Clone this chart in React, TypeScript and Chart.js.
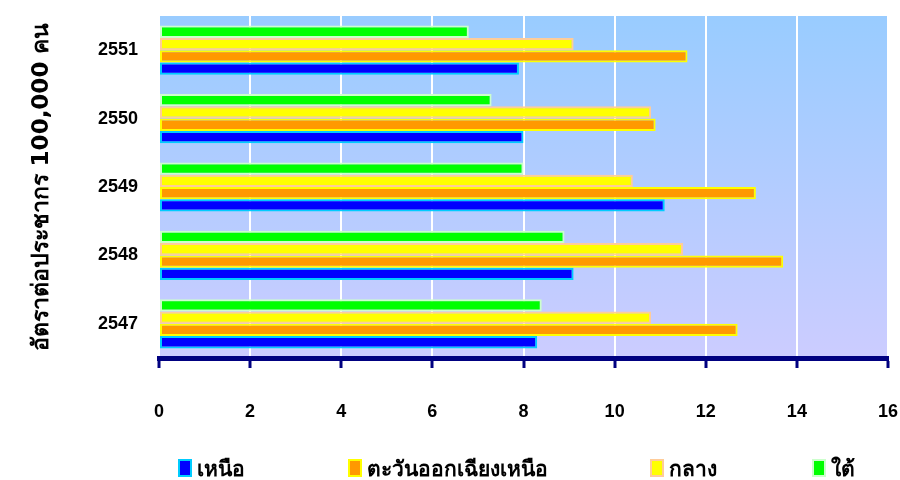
import React, { useEffect, useRef } from "react";
import { Chart, registerables } from "chart.js";

Chart.register(...registerables);

const years = ["2551", "2550", "2549", "2548", "2547"];
const seriesNames = ["เหนือ", "ตะวันออกเฉียงเหนือ", "กลาง", "ใต้"];
const north = [7.9, 8.0, 11.1, 9.1, 8.3];
const northeast = [11.6, 10.9, 13.1, 13.7, 12.7];
const central = [9.1, 10.8, 10.4, 11.5, 10.8];
const south = [6.8, 7.3, 8.0, 8.9, 8.4];
const xTicks = [0, 2, 4, 6, 8, 10, 12, 14, 16];
const yTitle = "อัตราต่อประชากร 100,000 คน";

const fills = ["#0000FF", "#FF9900", "#FFFF00", "#00FF00"];
const borders = ["#00CCFF", "#FFFF00", "#FFCC99", "#CCFFCC"];
const legendLefts = [178, 348, 650, 812];

const bgPlugin = {
  id: "plotBg",
  beforeDraw(chart: any) {
    const { ctx, chartArea } = chart;
    if (!chartArea) return;
    const g = ctx.createLinearGradient(0, chartArea.top, 0, chartArea.bottom);
    g.addColorStop(0, "#99CCFF");
    g.addColorStop(1, "#CCCCFF");
    ctx.save();
    ctx.fillStyle = g;
    ctx.fillRect(chartArea.left, chartArea.top, chartArea.right - chartArea.left, chartArea.bottom - chartArea.top);
    ctx.restore();
  },
};

export default function App() {
  const ref = useRef<HTMLCanvasElement>(null);
  useEffect(() => {
    const values = [north, northeast, central, south];
    const order = [3, 2, 1, 0];
    const chart = new Chart(ref.current!, {
      type: "bar",
      data: {
        labels: years,
        datasets: order.map((i) => ({
          label: seriesNames[i],
          data: values[i],
          backgroundColor: fills[i],
          borderColor: borders[i],
          borderWidth: 2,
          borderSkipped: false,
          categoryPercentage: 0.72,
          barPercentage: 1.0,
        })),
      },
      options: {
        indexAxis: "y",
        animation: false,
        responsive: false,
        maintainAspectRatio: false,
        layout: { padding: { top: 16, right: 12, left: 0, bottom: 0 } },
        plugins: {
          legend: { display: false },
          tooltip: { enabled: false },
        },
        scales: {
          x: {
            min: 0,
            max: 16,
            afterBuildTicks: (scale: any) => {
              scale.ticks = xTicks.map((v) => ({ value: v }));
            },
            afterFit: (scale: any) => {
              scale.height = 122;
              scale.paddingLeft = 0;
              scale.paddingRight = 0;
            },
            grid: {
              color: "#FFFFFF",
              lineWidth: 2,
              tickColor: "#000080",
              tickWidth: 3,
              tickLength: 10,
            },
            border: { color: "#000080", width: 5 },
            ticks: {
              color: "#000000",
              padding: 33,
              font: { family: "'Liberation Sans', Arial, sans-serif", size: 18, weight: "bold" },
              maxRotation: 0,
            },
          },
          y: {
            afterFit: (scale: any) => {
              scale.width = 159;
              scale.paddingTop = 0;
              scale.paddingBottom = 0;
            },
            grid: { display: false, drawTicks: false },
            border: { display: false },
            ticks: {
              color: "#000000",
              padding: 21,
              font: { family: "'Liberation Sans', Arial, sans-serif", size: 18, weight: "bold" },
            },
            title: {
              display: true,
              text: yTitle,
              color: "#000000",
              padding: { top: 28, bottom: 0 },
              font: { family: "Tahoma, 'DejaVu Sans', sans-serif", size: 23, weight: "bold" },
            },
          },
        },
      },
      plugins: [bgPlugin],
    });
    return () => chart.destroy();
  }, []);

  return (
    <div style={{ position: "fixed", left: 0, top: 0, width: 900, height: 480, background: "#fff" }}>
      <canvas ref={ref} width={900} height={480} style={{ width: 900, height: 480 }} />
      {seriesNames.map((n, i) => (
        <div
          key={n}
          style={{
            position: "absolute",
            left: legendLefts[i],
            top: 455,
            height: 26,
            display: "flex",
            alignItems: "center",
            fontFamily: "Tahoma, 'DejaVu Sans', sans-serif",
            fontWeight: "bold",
            fontSize: 21,
            color: "#000",
            whiteSpace: "nowrap",
          }}
        >
          <span
            style={{
              display: "inline-block",
              width: 10,
              height: 14,
              background: fills[i],
              border: `2px solid ${borders[i]}`,
              marginRight: 5,
            }}
          />
          <span>{n}</span>
        </div>
      ))}
    </div>
  );
}
